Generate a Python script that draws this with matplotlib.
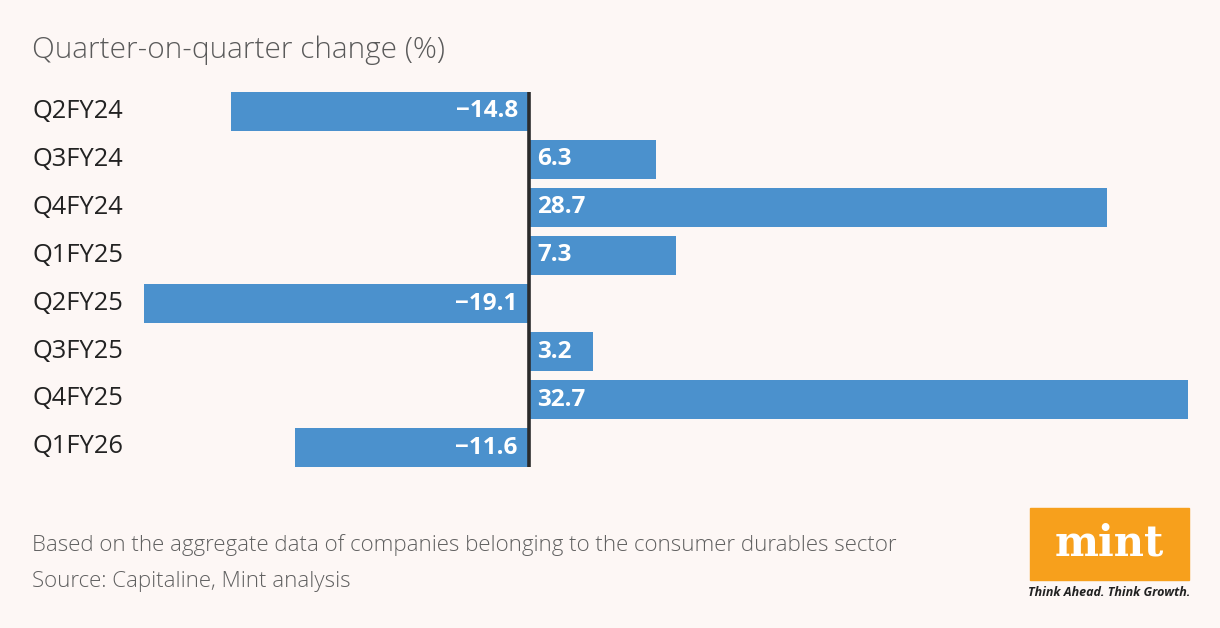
import matplotlib.pyplot as plt
from matplotlib.patches import Rectangle

quarters = ['Q2FY24', 'Q3FY24', 'Q4FY24', 'Q1FY25', 'Q2FY25', 'Q3FY25', 'Q4FY25', 'Q1FY26']
change = [-14.8, 6.3, 28.7, 7.3, -19.1, 3.2, 32.7, -11.6]
value_labels = ['\u221214.8', '6.3', '28.7', '7.3', '\u221219.1', '3.2', '32.7', '\u221211.6']

bg = '#fdf7f5'
bar_col = '#4b91cd'
W, H = 1220, 628

plt.rcParams['font.family'] = ['Open Sans', 'DejaVu Sans']

fig = plt.figure(figsize=(W / 100, H / 100), dpi=100, facecolor=bg)

# axes placed in pixel coords: x from -19.1 (px 144) to 32.7 (px 1188)
ax = fig.add_axes([144 / W, 1 - 467 / H, (1188 - 144) / W, (467 - 92) / H])
ax.set_facecolor(bg)
bh = 0.81
ax.barh(range(len(change)), change, height=bh, color=bar_col)
ax.set_xlim(min(change), max(change))
ax.set_ylim(len(change) - 1 + bh / 2, -bh / 2)
ax.axvline(0, color='#2b2b2b', lw=2.6)
ax.axis('off')

for i, (v, lab) in enumerate(zip(change, value_labels)):
    if v < 0:
        ax.text(-0.55, i, lab, ha='right', va='center', color='white',
                fontsize=17.5, fontweight='bold')
    else:
        ax.text(0.4, i, lab, ha='left', va='center', color='white',
                fontsize=17.5, fontweight='bold')
    fig.text(32 / W, 1 - (111.5 + i * 47.9) / H, quarters[i], ha='left', va='center',
             fontsize=18.4, color='#222222')

fig.text(32 / W, 1 - 50 / H, 'Quarter-on-quarter change (%)', ha='left', va='center',
         fontsize=21.4, color='#5a5a5a', fontweight='light')
fig.text(32 / W, 1 - 545 / H, 'Based on the aggregate data of companies belonging to the consumer durables sector',
         ha='left', va='center', fontsize=16, color='#606060', fontweight='light')
fig.text(32 / W, 1 - 581 / H, 'Source: Capitaline, Mint analysis',
         ha='left', va='center', fontsize=16, color='#606060', fontweight='light')

# mint logo
fig.patches.append(Rectangle((1030 / W, 1 - 580 / H), 159 / W, 72 / H,
                             transform=fig.transFigure, color='#f7a01c', zorder=0))
fig.text(1109.5 / W, 1 - 543 / H, 'mint', ha='center', va='center', fontsize=30,
         color='white', fontweight='bold', family='DejaVu Serif')
fig.text(1109.5 / W, 1 - 593 / H, 'Think Ahead. Think Growth.', ha='center', va='center',
         fontsize=9, color='#222222', fontweight='bold', style='italic')

fig.savefig('out.png', dpi=100, facecolor=bg)
